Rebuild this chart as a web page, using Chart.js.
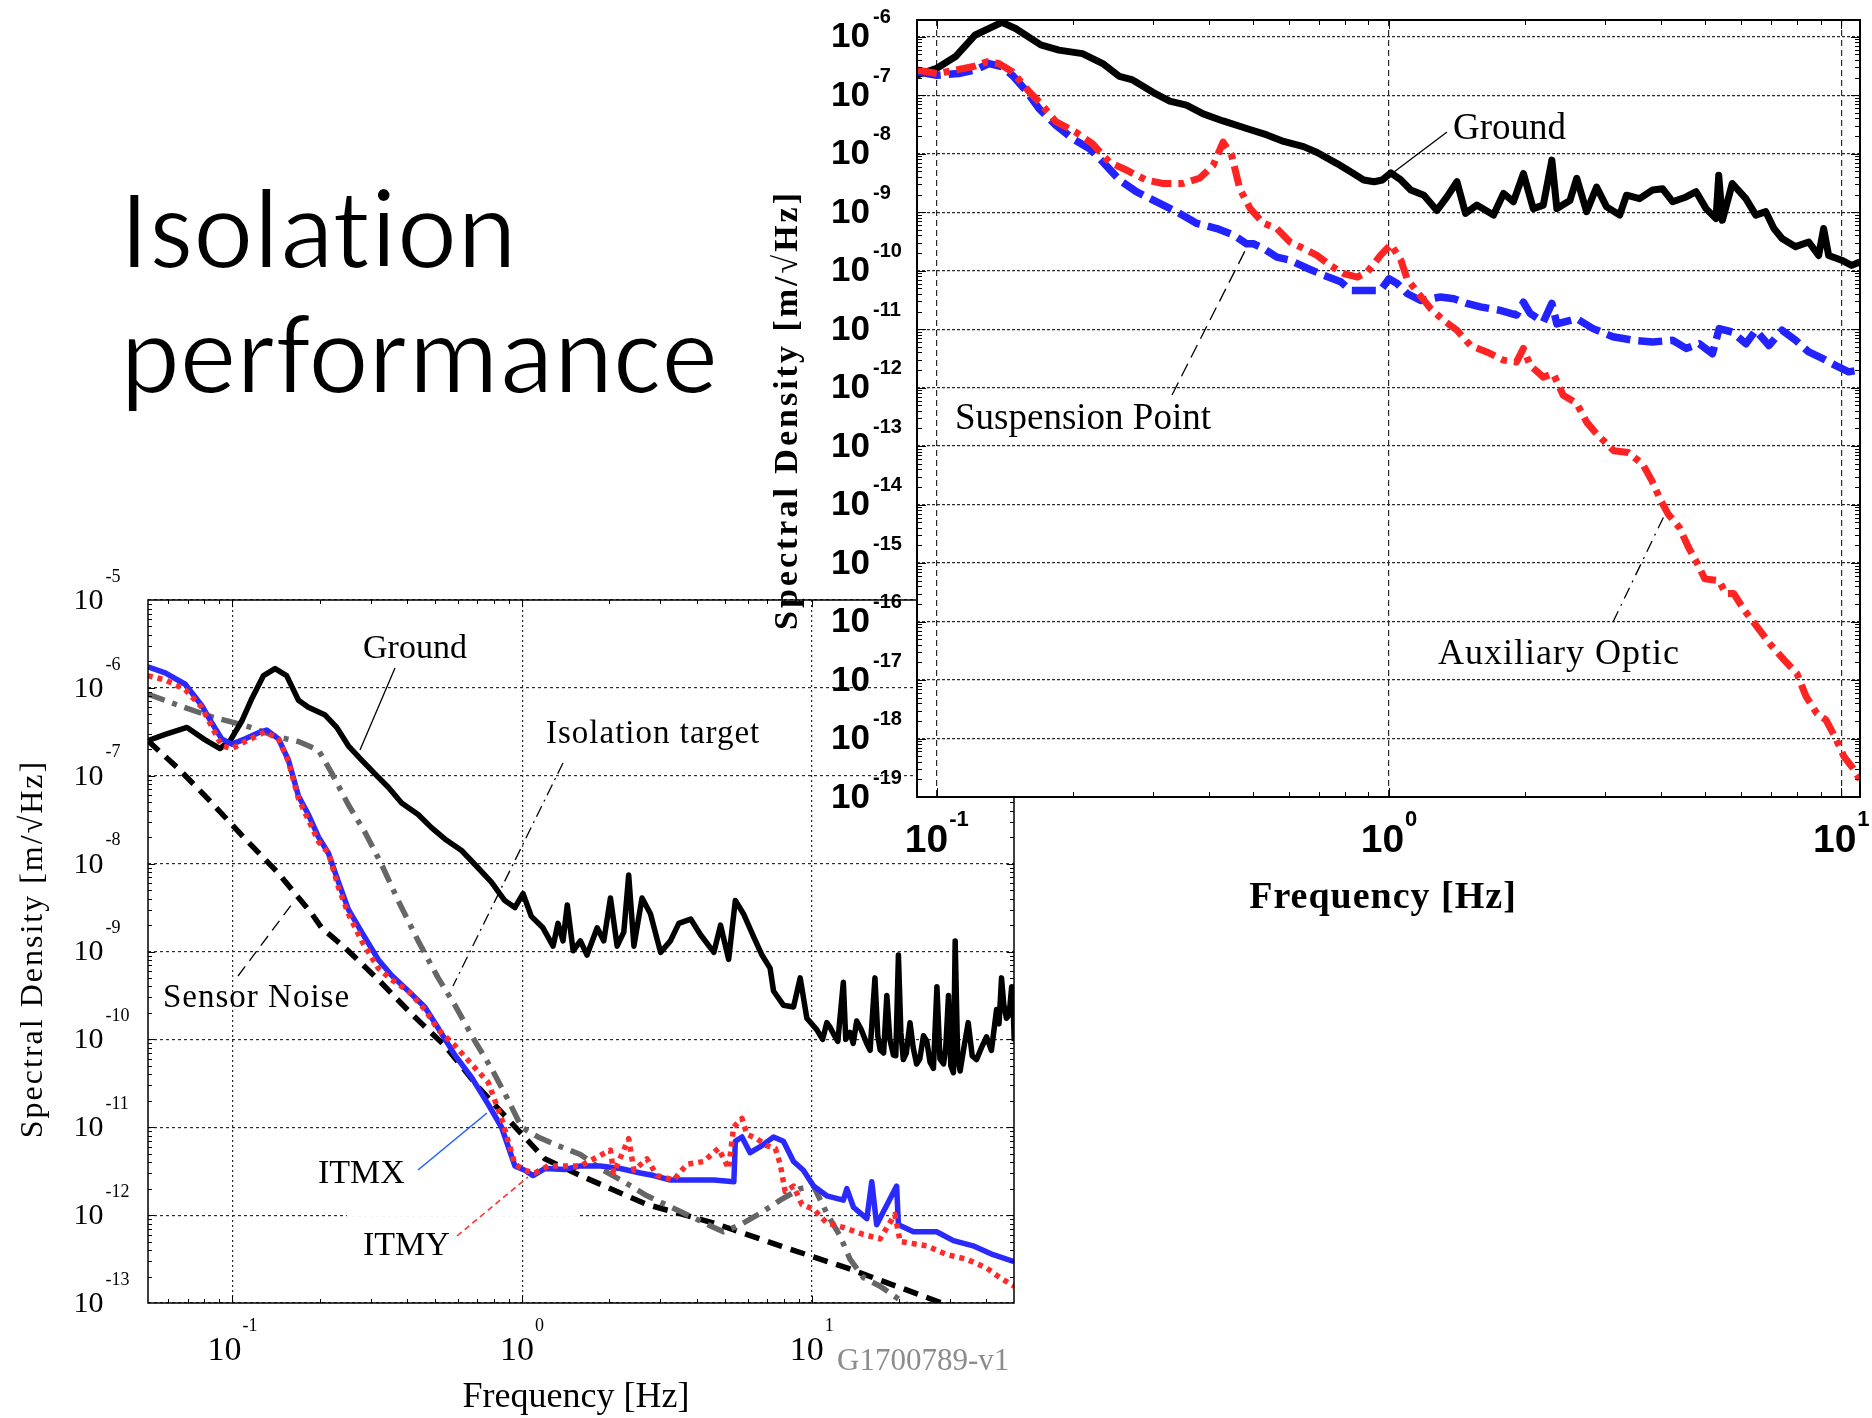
<!DOCTYPE html>
<html lang="en">
<head>
<meta charset="utf-8">
<title>Isolation performance</title>
<script src="https://cdn.jsdelivr.net/npm/chart.js@4.4.1/dist/chart.umd.min.js"></script>
<style>
  html, body { margin: 0; padding: 0; background: #ffffff; }
  body { position: relative; width: 1872px; height: 1418px; overflow: hidden; }
  .titleLine {
    position: absolute; left: 120px; top: 0;
    font-family: "Carlito", "Open Sans", "Noto Sans", sans-serif;
    font-size: 115px; line-height: 1; color: #000; white-space: nowrap;
    font-variant-ligatures: none; font-feature-settings: "liga" 0, "clig" 0;
    transform-origin: 0 0; -webkit-text-stroke: 2.2px #ffffff;
  }
  .bl { display: inline-block; width: 0; height: 0; vertical-align: baseline; }
  #bottomChart { position: absolute; left: 0; top: 540px; }
  #topChart { position: absolute; left: 700px; top: 0; }
</style>
</head>
<body>
<div class="titleLine" id="titleA">Isolation<span class="bl"></span></div>
<div class="titleLine" id="titleB">performance<span class="bl"></span></div>
<canvas id="bottomChart" width="1060" height="878"></canvas>
<canvas id="topChart" width="1172" height="960"></canvas>
<script>
// ---- upper panel: ground, suspension point, auxiliary optic ----
var topGroundFreq = [0.0904, 0.1, 0.11, 0.1216, 0.1393, 0.1493, 0.1698, 0.1862, 0.2099, 0.2328,
  0.2535, 0.271, 0.3006, 0.3273, 0.3565, 0.3882, 0.4295, 0.4842, 0.537, 0.5848,
  0.6471, 0.6934, 0.7674, 0.8222, 0.879, 0.9268, 0.966, 1.009, 1.062, 1.117,
  1.194, 1.276, 1.343, 1.413, 1.476, 1.563, 1.702, 1.791, 1.884, 1.982,
  2.084, 2.193, 2.291, 2.35, 2.512, 2.6, 2.735, 2.877, 3.027, 3.236,
  3.35, 3.581, 3.828, 4.027, 4.236, 4.539, 4.775, 5.023, 5.284, 5.358,
  5.458, 5.741, 6.152, 6.471, 6.808, 7.096, 7.396, 7.925, 8.472, 8.913,
  9.141, 9.376, 10.02, 10.54, 10.99];
var topGroundAsd = [2.21e-7, 2.88e-7, 4.57e-7, 1.07e-6, 1.76e-6, 1.38e-6, 7.24e-7, 5.89e-7, 5.13e-7, 3.47e-7,
  2.09e-7, 1.82e-7, 1.12e-7, 7.94e-8, 6.76e-8, 4.79e-8, 3.63e-8, 2.69e-8, 2.09e-8, 1.62e-8,
  1.32e-8, 1.05e-8, 6.76e-9, 4.90e-9, 3.55e-9, 3.31e-9, 3.55e-9, 4.7e-9, 3.55e-9, 2.40e-9,
  1.95e-9, 1.07e-9, 1.82e-9, 3.31e-9, 9.55e-10, 1.32e-9, 8.91e-10, 2.09e-9, 1.51e-9, 4.57e-9,
  1.15e-9, 1.32e-9, 7.76e-9, 1.15e-9, 1.58e-9, 3.80e-9, 1.02e-9, 2.69e-9, 1.23e-9, 8.91e-10,
  1.95e-9, 1.70e-9, 2.40e-9, 2.51e-9, 1.51e-9, 1.82e-9, 2.24e-9, 1.15e-9, 7.76e-10, 4.27e-9,
  7.24e-10, 3.09e-9, 1.70e-9, 8.91e-10, 1.02e-9, 5.25e-10, 3.55e-10, 2.57e-10, 3.09e-10, 1.82e-10,
  5.25e-10, 1.82e-10, 1.51e-10, 1.23e-10, 1.41e-10];

var topSuspFreq = [0.0904, 0.1, 0.1117, 0.1216, 0.1303, 0.1393, 0.1469, 0.157, 0.1683, 0.1832,
  0.1995, 0.2173, 0.2328, 0.2535, 0.2761, 0.3055, 0.3388, 0.375, 0.4159, 0.4529,
  0.4842, 0.5012, 0.5272, 0.5649, 0.6039, 0.6592, 0.7178, 0.7816, 0.8222, 0.9572,
  1.0, 1.042, 1.096, 1.175, 1.3, 1.39, 1.486, 1.592, 1.762, 1.914,
  1.982, 2.051, 2.193, 2.291, 2.35, 2.6, 2.825, 3.126, 3.459, 3.828,
  4.236, 4.539, 4.853, 5.188, 5.37, 5.741, 6.152, 6.471, 6.918, 7.396,
  7.925, 8.472, 9.078, 9.705, 10.38, 11.0];
var topSuspAsd = [2.51e-7, 2.19e-7, 2.34e-7, 2.69e-7, 3.47e-7, 3.09e-7, 2.19e-7, 1.23e-7, 5.89e-8, 3.09e-8,
  1.82e-8, 1.23e-8, 7.24e-9, 3.55e-9, 2.24e-9, 1.51e-9, 1.02e-9, 6.46e-10, 5.25e-10, 4.07e-10,
  2.88e-10, 2.88e-10, 2.40e-10, 1.70e-10, 1.51e-10, 1.10e-10, 8.32e-11, 6.46e-11, 4.57e-11, 4.57e-11,
  7.24e-11, 6.03e-11, 4.07e-11, 3.09e-11, 3.55e-11, 3.31e-11, 2.75e-11, 2.40e-11, 2.09e-11, 1.74e-11,
  2.88e-11, 1.86e-11, 1.32e-11, 2.75e-11, 1.23e-11, 1.51e-11, 1.02e-11, 7.41e-12, 6.46e-12, 6.03e-12,
  6.46e-12, 4.68e-12, 5.62e-12, 3.80e-12, 1.02e-11, 8.91e-12, 5.62e-12, 9.55e-12, 5.25e-12, 9.55e-12,
  6.46e-12, 4.07e-12, 3.16e-12, 2.40e-12, 1.86e-12, 2.00e-12];

var topAuxFreq = [0.0904, 0.1, 0.11, 0.1205, 0.1291, 0.1371, 0.1469, 0.16, 0.171, 0.1832,
  0.2028, 0.2208, 0.2404, 0.2624, 0.2904, 0.3162, 0.3499, 0.3811, 0.4083, 0.4295,
  0.4487, 0.4677, 0.4932, 0.5272, 0.5649, 0.6039, 0.6471, 0.6934, 0.7413, 0.7943,
  0.8511, 0.8954, 0.9572, 1.009, 1.062, 1.096, 1.153, 1.236, 1.321, 1.413,
  1.514, 1.644, 1.791, 1.914, 1.982, 2.051, 2.193, 2.307, 2.427, 2.6,
  2.735, 2.877, 3.141, 3.381, 3.639, 3.811, 3.99, 4.14, 4.385, 4.592,
  4.808, 4.989, 5.37, 5.55, 5.781, 6.109, 6.516, 6.95, 7.482, 7.98,
  8.356, 8.831, 9.247, 9.683, 10.14, 10.62, 11.0];
var topAuxAsd = [2.69e-7, 2.34e-7, 2.69e-7, 3.09e-7, 3.72e-7, 3.47e-7, 2.51e-7, 1.15e-7, 6.76e-8, 3.55e-8,
  2.34e-8, 1.48e-8, 7.24e-9, 5.25e-9, 3.55e-9, 3.09e-9, 3.09e-9, 3.80e-9, 6.31e-9, 1.58e-8,
  9.33e-9, 2.51e-9, 1.15e-9, 6.46e-10, 5.25e-10, 3.09e-10, 2.40e-10, 1.82e-10, 1.23e-10, 8.91e-11,
  7.76e-11, 9.55e-11, 1.82e-10, 2.80e-10, 1.51e-10, 7.24e-11, 4.37e-11, 2.24e-11, 1.41e-11, 9.55e-12,
  5.25e-12, 4.07e-12, 2.95e-12, 2.75e-12, 4.68e-12, 2.40e-12, 1.51e-12, 1.74e-12, 7.41e-13, 5.37e-13,
  2.57e-13, 1.62e-13, 8.32e-14, 7.76e-14, 4.90e-14, 2.57e-14, 1.17e-14, 6.92e-15, 4.07e-15, 1.86e-15,
  9.77e-16, 5.37e-16, 5.0e-16, 3.0e-16, 3.02e-16, 1.55e-16, 8.13e-17, 4.17e-17, 2.19e-17, 1.29e-17,
  5.25e-18, 2.69e-18, 2.09e-18, 1.07e-18, 4.90e-19, 3.09e-19, 2.00e-19];

// ---- lower panel: ground, ITMX, ITMY, sensor noise, isolation target ----
var botGroundFreq = [0.051, 0.0586, 0.0697, 0.0794, 0.0906, 0.0982, 0.1076, 0.1167, 0.128, 0.1403,
  0.1538, 0.169, 0.1828, 0.2089, 0.2291, 0.2512, 0.2793, 0.3105, 0.3451, 0.3837,
  0.4375, 0.4864, 0.5408, 0.618, 0.6871, 0.7834, 0.871, 0.9441, 1.007, 1.076,
  1.18, 1.279, 1.33, 1.384, 1.432, 1.5, 1.589, 1.675, 1.816, 1.914,
  2.018, 2.128, 2.244, 2.333, 2.432, 2.594, 2.773, 3.006, 3.251, 3.475,
  3.819, 4.13, 4.592, 4.842, 5.164, 5.445, 5.808, 6.295, 6.73, 7.178,
  7.379, 7.98, 8.65, 9.12, 9.616, 10.4, 10.9, 11.27, 11.6, 11.89,
  12.3, 12.85, 13.1, 13.55, 13.9, 14.29, 14.8, 15.49, 15.9, 16.52,
  16.9, 17.22, 17.7, 18.16, 18.6, 19.14, 19.5, 19.91, 20.3, 20.7,
  21.2, 21.83, 22.4, 23.01, 23.6, 24.3, 24.95, 25.6, 26.3, 27.04,
  27.7, 28.51, 29.0, 29.65, 30.2, 30.83, 31.26, 31.9, 32.51, 33.5,
  34.67, 35.8, 37.07, 38.5, 40.09, 41.7, 43.45, 44.3, 45.19, 46.0,
  46.99, 48.0, 48.98, 49.5, 50];
var botGroundAsd = [2.51e-7, 2.95e-7, 3.55e-7, 2.63e-7, 2.04e-7, 2.51e-7, 4.17e-7, 7.59e-7, 1.38e-6, 1.66e-6,
  1.38e-6, 7.24e-7, 6.03e-7, 4.90e-7, 3.55e-7, 2.19e-7, 1.51e-7, 1.05e-7, 7.41e-8, 4.90e-8,
  3.63e-8, 2.57e-8, 1.91e-8, 1.41e-8, 9.77e-9, 6.17e-9, 3.80e-9, 3.16e-9, 4.57e-9, 2.51e-9,
  1.86e-9, 1.15e-9, 2.09e-9, 1.32e-9, 3.39e-9, 1.02e-9, 1.32e-9, 9.12e-10, 1.86e-9, 1.32e-9,
  4.07e-9, 1.15e-9, 1.66e-9, 7.41e-9, 1.15e-9, 4.07e-9, 2.69e-9, 9.77e-10, 1.32e-9, 2.09e-9,
  2.34e-9, 1.55e-9, 9.77e-10, 2.00e-9, 8.13e-10, 3.80e-9, 2.69e-9, 1.48e-9, 9.12e-10, 6.46e-10,
  3.55e-10, 2.45e-10, 2.34e-10, 5.01e-10, 1.74e-10, 1.29e-10, 1.0e-10, 1.55e-10, 1.35e-10, 1.15e-10,
  9.5e-11, 4.47e-10, 1.0e-10, 1.20e-10, 9.0e-11, 1.62e-10, 1.3e-10, 8.91e-11, 7.5e-11, 5.01e-10,
  1.1e-10, 7.59e-11, 7.0e-11, 3.16e-10, 1.0e-10, 6.61e-11, 6.5e-11, 9.12e-10, 1.2e-10, 5.89e-11,
  7.0e-11, 1.55e-10, 8.0e-11, 5.25e-11, 6.0e-11, 1.1e-10, 9.55e-11, 5.5e-11, 4.68e-11, 3.98e-10,
  6.0e-11, 5.25e-11, 8.0e-11, 3.16e-10, 5.0e-11, 4.17e-11, 1.32e-9, 6.0e-11, 4.37e-11, 8.0e-11,
  1.55e-10, 6.5e-11, 5.89e-11, 8.0e-11, 1.07e-10, 7.5e-11, 2.19e-10, 1.5e-10, 5.01e-10, 2.5e-10,
  1.74e-10, 1.9e-10, 3.98e-10, 2.8e-10, 9.55e-11];

var itmxFreq = [0.051, 0.0586, 0.0687, 0.0783, 0.0849, 0.0918, 0.0995, 0.1107, 0.123, 0.1312,
  0.1442, 0.156, 0.169, 0.1828, 0.1982, 0.2143, 0.2323, 0.2512, 0.2793, 0.3184,
  0.354, 0.4046, 0.4613, 0.5129, 0.5861, 0.6683, 0.7638, 0.8492, 0.9441, 1.021,
  1.091, 1.197, 1.403, 1.589, 1.862, 2.183, 2.559, 2.844, 3.251, 3.819,
  4.592, 5.383, 5.445, 5.741, 6.124, 6.73, 7.379, 7.98, 8.65, 9.354,
  10.14, 11.27, 12.85, 13.21, 13.93, 15.49, 16.11, 16.75, 19.63, 19.91,
  22.44, 26.98, 30.83, 36.06, 42.27, 50];
var itmxAsd = [1.74e-6, 1.48e-6, 1.10e-6, 6.31e-7, 3.98e-7, 2.63e-7, 2.29e-7, 2.63e-7, 3.09e-7, 3.31e-7,
  2.63e-7, 1.51e-7, 5.89e-8, 3.63e-8, 2.00e-8, 1.32e-8, 6.17e-9, 3.02e-9, 1.66e-9, 8.13e-10,
  5.37e-10, 3.55e-10, 2.34e-10, 1.35e-10, 6.61e-11, 3.72e-11, 1.82e-11, 1.00e-11, 3.63e-12, 3.24e-12,
  2.82e-12, 3.39e-12, 3.31e-12, 3.63e-12, 3.63e-12, 3.39e-12, 3.02e-12, 2.82e-12, 2.51e-12, 2.51e-12,
  2.51e-12, 2.40e-12, 6.92e-12, 7.76e-12, 5.13e-12, 6.17e-12, 7.76e-12, 6.92e-12, 4.07e-12, 3.24e-12,
  2.14e-12, 1.66e-12, 1.48e-12, 2.00e-12, 1.23e-12, 9.12e-13, 2.40e-12, 7.76e-13, 2.14e-12, 7.76e-13,
  6.46e-13, 6.46e-13, 5.13e-13, 4.47e-13, 3.55e-13, 2.95e-13];

var itmyFreq = [0.051, 0.0586, 0.0687, 0.0783, 0.0918, 0.0995, 0.1107, 0.1297, 0.1442, 0.156,
  0.169, 0.1982, 0.2143, 0.2323, 0.2512, 0.2793, 0.3184, 0.354, 0.4046, 0.4613,
  0.5129, 0.5861, 0.6683, 0.7638, 0.8492, 0.9441, 1.021, 1.107, 1.23, 1.403,
  1.589, 2.018, 2.07, 2.333, 2.432, 2.698, 2.924, 3.334, 3.707, 4.227,
  4.764, 5.164, 5.37, 5.741, 5.97, 6.457, 6.998, 7.482, 7.78, 8.091,
  8.65, 9.247, 10.14, 11.27, 12.85, 15.07, 17.22, 19.36, 20.18, 24.95,
  29.24, 34.2, 40.09, 44.57, 50];
var itmyAsd = [1.38e-6, 1.23e-6, 9.55e-7, 6.03e-7, 2.19e-7, 2.04e-7, 2.45e-7, 3.16e-7, 2.63e-7, 1.45e-7,
  5.50e-8, 1.78e-8, 1.32e-8, 5.37e-9, 2.69e-9, 1.32e-9, 6.46e-10, 4.79e-10, 3.55e-10, 2.19e-10,
  1.29e-10, 8.51e-11, 5.25e-11, 3.24e-11, 1.26e-11, 3.80e-12, 3.24e-12, 3.02e-12, 3.63e-12, 3.63e-12,
  3.63e-12, 5.50e-12, 3.02e-12, 7.41e-12, 3.24e-12, 4.37e-12, 2.82e-12, 2.51e-12, 3.80e-12, 4.07e-12,
  5.75e-12, 3.39e-12, 1.00e-11, 1.26e-11, 8.32e-12, 7.41e-12, 6.17e-12, 5.75e-12, 3.80e-12, 1.86e-12,
  2.14e-12, 1.32e-12, 1.17e-12, 8.13e-13, 7.24e-13, 6.03e-13, 5.37e-13, 1.02e-12, 5.01e-13, 4.47e-13,
  3.55e-13, 3.16e-13, 2.51e-13, 1.95e-13, 1.55e-13];

var sensorFreq = [0.051, 0.0652, 0.0849, 0.1107, 0.1442, 0.1879, 0.2032, 0.2449, 0.3184, 0.415,
  0.5408, 0.7047, 0.9183, 1.197, 1.589, 2.698, 4.592, 7.78, 13.21, 19.63, 27.67, 30.0];
var sensorAsd = [2.51e-7, 1.20e-7, 4.90e-8, 1.91e-8, 7.76e-9, 2.69e-9, 1.86e-9, 1.10e-9, 4.79e-10, 1.95e-10,
  8.51e-11, 2.88e-11, 1.12e-11, 4.37e-12, 2.82e-12, 1.32e-12, 8.13e-13, 4.47e-13, 2.51e-13, 1.55e-13, 1.02e-13, 9.0e-14];

var targetFreq = [0.051, 0.0652, 0.0849, 0.1107, 0.1442, 0.169, 0.1982, 0.2203, 0.2512, 0.2864,
  0.3273, 0.3733, 0.4375, 0.5129, 0.5861, 0.6871, 0.7834, 0.8954, 0.9954, 1.135,
  1.33, 1.589, 1.862, 2.244, 2.698, 3.516, 4.592, 4.955, 5.662, 6.637,
  7.78, 9.12, 10.14, 11.27, 12.53, 13.55, 15.07, 17.22, 19.63, 21.28];
var targetAsd = [8.51e-7, 6.31e-7, 4.68e-7, 3.72e-7, 2.75e-7, 2.45e-7, 1.95e-7, 1.07e-7, 4.68e-8, 2.29e-8,
  9.77e-9, 3.80e-9, 1.32e-9, 5.01e-10, 2.45e-10, 9.55e-11, 4.68e-11, 2.04e-11, 1.00e-11, 7.76e-12,
  6.17e-12, 4.90e-12, 3.39e-12, 2.40e-12, 1.66e-12, 1.10e-12, 7.24e-13, 6.46e-13, 7.76e-13, 1.05e-12,
  1.48e-12, 2.00e-12, 2.14e-12, 1.05e-12, 5.75e-13, 3.16e-13, 1.95e-13, 1.55e-13, 1.15e-13, 9.55e-14];

// decade exponents used for grid lines and tick labels
var topXExp = [-1, 0, 1];
var topYExp = [-19, -18, -17, -16, -15, -14, -13, -12, -11, -10, -9, -8, -7, -6];
var botXExp = [-1, 0, 1];
var botYExp = [-13, -12, -11, -10, -9, -8, -7, -6, -5];

function pairs(fs, vs) {
  return fs.map(function (f, i) { return { x: f, y: vs[i] }; });
}

function decadeTicks(exps) {
  return function (scale) {
    scale.ticks = exps.map(function (e) { return { value: Math.pow(10, e), major: true }; });
  };
}

function logSteps(min, max) {
  var out = [];
  for (var e = Math.floor(Math.log10(min)); e <= Math.ceil(Math.log10(max)); e++) {
    for (var m = 1; m < 10; m++) {
      var v = m * Math.pow(10, e);
      if (v > min && v < max) out.push({ v: v, major: m === 1 });
    }
  }
  return out;
}

function drawText(ctx, text, x, y, font, o) {
  o = o || {};
  ctx.save();
  ctx.font = font;
  ctx.fillStyle = o.color || '#000';
  ctx.textAlign = o.align || 'left';
  ctx.textBaseline = o.baseline || 'alphabetic';
  if (o.spacing) ctx.letterSpacing = o.spacing + 'px';
  if (o.rotate) {
    ctx.translate(x, y);
    ctx.rotate(o.rotate);
    ctx.fillText(text, 0, 0);
  } else {
    ctx.fillText(text, x, y);
  }
  ctx.restore();
}

function drawLeader(ctx, l, ox, oy) {
  ctx.save();
  ctx.strokeStyle = l.color || '#000';
  ctx.lineWidth = l.width || 1.3;
  ctx.setLineDash(l.dash || []);
  ctx.beginPath();
  ctx.moveTo(l.x1 - ox, l.y1 - oy);
  ctx.lineTo(l.x2 - ox, l.y2 - oy);
  ctx.stroke();
  ctx.restore();
}

// frame, inward ticks, "10^n" labels, titles and callouts
function slideDecor(cfg) {
  return {
    id: cfg.id,
    beforeDraw: function (chart) {
      if (!cfg.fillArea) return;
      var a = chart.chartArea, ctx = chart.ctx;
      ctx.save();
      ctx.fillStyle = '#fff';
      ctx.fillRect(a.left, a.top, a.right - a.left, a.bottom - a.top);
      ctx.restore();
    },
    beforeDatasetsDraw: function (chart) {
      if (!cfg.gridGap) return;
      var ctx = chart.ctx, g = cfg.gridGap;
      var py = chart.scales.y.getPixelForValue(g.value);
      ctx.save();
      ctx.strokeStyle = '#fff';
      ctx.lineWidth = 3;
      ctx.beginPath();
      ctx.moveTo(g.from - cfg.ox, py);
      ctx.lineTo(g.to - cfg.ox, py);
      ctx.stroke();
      ctx.restore();
    },
    afterDatasetsDraw: function (chart) {
      var ctx = chart.ctx, a = chart.chartArea;
      var xs = chart.scales.x, ys = chart.scales.y;
      var ox = cfg.ox, oy = cfg.oy;

      ctx.save();
      ctx.strokeStyle = '#000';
      ctx.lineWidth = 1;
      ctx.beginPath();
      logSteps(xs.min, xs.max).forEach(function (s) {
        var p = Math.round(xs.getPixelForValue(s.v)) + 0.5;
        var l = s.major ? cfg.tick * 1.8 : cfg.tick;
        ctx.moveTo(p, a.bottom); ctx.lineTo(p, a.bottom - l);
        ctx.moveTo(p, a.top); ctx.lineTo(p, a.top + l);
      });
      logSteps(ys.min, ys.max).forEach(function (s) {
        var p = Math.round(ys.getPixelForValue(s.v)) + 0.5;
        var l = s.major ? cfg.tick * 1.8 : cfg.tick;
        ctx.moveTo(a.left, p); ctx.lineTo(a.left + l, p);
        ctx.moveTo(a.right, p); ctx.lineTo(a.right - l, p);
      });
      ctx.stroke();
      ctx.lineWidth = cfg.frame;
      ctx.strokeRect(a.left, a.top, a.right - a.left, a.bottom - a.top);
      ctx.restore();

      var yl = cfg.yLabels;
      cfg.yExp.forEach(function (e) {
        var py = ys.getPixelForValue(Math.pow(10, e));
        drawText(ctx, '10', yl.right - ox, py + yl.baseDy, yl.font, { align: 'right', baseline: 'middle' });
        drawText(ctx, String(e), yl.right - ox + yl.expDx, py + yl.expDy, yl.expFont, { baseline: 'middle' });
      });

      var xl = cfg.xLabels;
      cfg.xExp.forEach(function (e) {
        var px = xs.getPixelForValue(Math.pow(10, e));
        ctx.save();
        ctx.font = xl.font;
        var w1 = ctx.measureText('10').width;
        ctx.font = xl.expFont;
        var w2 = ctx.measureText(String(e)).width;
        ctx.restore();
        var left = px - (w1 + xl.gap + w2) / 2;
        drawText(ctx, '10', left, xl.y - oy, xl.font, { baseline: 'middle' });
        drawText(ctx, String(e), left + w1 + xl.gap, xl.expY - oy, xl.expFont, { baseline: 'middle' });
      });

      var xt = cfg.xTitle, yt = cfg.yTitle;
      drawText(ctx, xt.text, xt.x - ox, xt.y - oy, xt.font, { align: 'center', spacing: xt.spacing });
      drawText(ctx, yt.text, yt.x - ox, yt.y - oy, yt.font,
        { align: 'center', baseline: 'middle', spacing: yt.spacing, rotate: -Math.PI / 2 });

      cfg.leaders.forEach(function (l) { drawLeader(ctx, l, ox, oy); });
      cfg.notes.forEach(function (n) {
        drawText(ctx, n.text, n.x - ox, n.y - oy, n.font, { spacing: n.spacing, color: n.color });
      });
    }
  };
}

function logAxis(min, max, exps, dash, fitKey) {
  return {
    type: 'logarithmic',
    min: min,
    max: max,
    afterBuildTicks: decadeTicks(exps),
    afterFit: function (s) { s[fitKey] = 0; },
    ticks: { display: false },
    grid: { color: '#2a2a2a', lineWidth: 1.2, drawTicks: false },
    border: { display: false, dash: dash }
  };
}

var serif = '"Liberation Serif", "Times New Roman", serif';
var sans = '"Liberation Sans", Arial, sans-serif';

// lower panel
new Chart(document.getElementById('bottomChart'), {
  type: 'line',
  data: {
    datasets: [
      { label: 'ITMY', data: pairs(itmyFreq, itmyAsd), borderColor: '#ff2b2b', borderWidth: 5.5, borderDash: [5, 5], order: 0 },
      { label: 'ITMX', data: pairs(itmxFreq, itmxAsd), borderColor: '#2a2aff', borderWidth: 5.5, order: 1 },
      { label: 'Ground', data: pairs(botGroundFreq, botGroundAsd), borderColor: '#000000', borderWidth: 5.5, order: 2 },
      { label: 'Isolation target', data: pairs(targetFreq, targetAsd), borderColor: '#666666', borderWidth: 5.5, borderDash: [18, 8, 5, 8], order: 3 },
      { label: 'Sensor Noise', data: pairs(sensorFreq, sensorAsd), borderColor: '#000000', borderWidth: 5.5, borderDash: [15, 9], order: 4 }
    ]
  },
  options: {
    responsive: false,
    animation: false,
    devicePixelRatio: 1,
    layout: { padding: { left: 148, top: 60, right: 46, bottom: 115 } },
    elements: {
      point: { radius: 0 },
      line: { tension: 0, borderCapStyle: 'butt', borderJoinStyle: 'round' }
    },
    plugins: { legend: { display: false }, tooltip: { enabled: false } },
    scales: {
      x: logAxis(0.0511, 49.9, botXExp, [2, 3], 'height'),
      y: logAxis(1e-13, 1e-5, botYExp, [3, 3], 'width')
    }
  },
  plugins: [slideDecor({
    id: 'lowerDecor', ox: 0, oy: 540, fillArea: false, tick: 4, frame: 1.5,
    gridGap: { value: 1e-12, from: 347, to: 580 },
    xExp: botXExp, yExp: botYExp,
    yLabels: { right: 103.5, baseDy: 1, expDx: 2, expDy: -23, font: '30px ' + serif, expFont: '18px ' + serif },
    xLabels: { y: 1351, expY: 1326, gap: 1, font: '34px ' + serif, expFont: '18px ' + serif },
    xTitle: { text: 'Frequency [Hz]', x: 576, y: 1407, font: '36px ' + serif, spacing: 0 },
    yTitle: { text: 'Spectral Density [m/\u221AHz]', x: 34, y: 949, font: '32px ' + serif, spacing: 2 },
    leaders: [
      { x1: 395, y1: 668, x2: 360, y2: 750 },
      { x1: 563, y1: 763, x2: 453, y2: 986, dash: [12, 5, 2, 5] },
      { x1: 238, y1: 976, x2: 292, y2: 904, dash: [12, 7] },
      { x1: 418, y1: 1170, x2: 487, y2: 1113, color: '#2060ff', width: 1.6 },
      { x1: 457, y1: 1236, x2: 528, y2: 1177, color: '#ff3030', width: 1.6, dash: [6, 4] }
    ],
    notes: [
      { text: 'Ground', x: 363, y: 658, font: '34px ' + serif },
      { text: 'Isolation target', x: 546, y: 743, font: '33px ' + serif, spacing: 1 },
      { text: 'Sensor Noise', x: 163, y: 1007, font: '33px ' + serif, spacing: 1 },
      { text: 'ITMX', x: 318, y: 1183, font: '34px ' + serif },
      { text: 'ITMY', x: 363, y: 1255, font: '34px ' + serif },
      { text: 'G1700789-v1', x: 837, y: 1370, font: '31px ' + serif, color: '#8c8c8c' }
    ]
  })]
});

// upper panel
new Chart(document.getElementById('topChart'), {
  type: 'line',
  data: {
    datasets: [
      { label: 'Auxiliary Optic', data: pairs(topAuxFreq, topAuxAsd), borderColor: '#ff2424', borderWidth: 7, borderDash: [20, 7, 6, 7], order: 0 },
      { label: 'Suspension Point', data: pairs(topSuspFreq, topSuspAsd), borderColor: '#2323ff', borderWidth: 7.5, borderDash: [24, 8], order: 1 },
      { label: 'Ground', data: pairs(topGroundFreq, topGroundAsd), borderColor: '#000000', borderWidth: 7, order: 2 }
    ]
  },
  options: {
    responsive: false,
    animation: false,
    devicePixelRatio: 1,
    layout: { padding: { left: 217, top: 20, right: 12, bottom: 163 } },
    elements: {
      point: { radius: 0 },
      line: { tension: 0, borderCapStyle: 'butt', borderJoinStyle: 'round' }
    },
    plugins: { legend: { display: false }, tooltip: { enabled: false } },
    scales: {
      x: logAxis(0.0904, 11.0, topXExp, [6, 4], 'height'),
      y: logAxis(1e-19, 1.93e-6, topYExp, [3, 2], 'width')
    }
  },
  plugins: [slideDecor({
    id: 'upperDecor', ox: 700, oy: 0, fillArea: true, tick: 5, frame: 2,
    xExp: topXExp, yExp: topYExp,
    yLabels: { right: 870, baseDy: 1, expDx: 3, expDy: -19, font: 'bold 35px ' + sans, expFont: 'bold 20px ' + sans },
    xLabels: { y: 841, expY: 820, gap: 1, font: 'bold 39px ' + sans, expFont: 'bold 22px ' + sans },
    xTitle: { text: 'Frequency [Hz]', x: 1383, y: 908, font: 'bold 38px ' + serif, spacing: 1 },
    yTitle: { text: 'Spectral Density [m/\u221AHz]', x: 788, y: 410, font: 'bold 34px ' + serif, spacing: 3 },
    leaders: [
      { x1: 1447, y1: 132, x2: 1390, y2: 175 },
      { x1: 1172, y1: 395, x2: 1248, y2: 245, dash: [14, 7] },
      { x1: 1613, y1: 622, x2: 1666, y2: 512, dash: [12, 6, 2, 6] }
    ],
    notes: [
      { text: 'Ground', x: 1453, y: 139, font: '37px ' + serif },
      { text: 'Suspension Point', x: 955, y: 429, font: '37px ' + serif },
      { text: 'Auxiliary Optic', x: 1438, y: 664, font: '36px ' + serif, spacing: 1 }
    ]
  })]
});

// slide title: put each line on its baseline and fit "performance" to its width
function fitTitle() {
  var a = document.getElementById('titleA'), b = document.getElementById('titleB');
  [a, b].forEach(function (el) { el.style.transform = 'none'; el.style.top = '0px'; });
  var w = b.getBoundingClientRect().width;
  var k = w > 0 ? 598 / w : 1;
  [[a, 268], [b, 393]].forEach(function (p) {
    var base = p[0].querySelector('.bl').getBoundingClientRect().bottom;
    p[0].style.top = (p[1] - base) + 'px';
    p[0].style.transform = 'scaleX(' + k + ')';
  });
}
fitTitle();
if (document.fonts && document.fonts.ready) document.fonts.ready.then(fitTitle);
</script>
</body>
</html>
